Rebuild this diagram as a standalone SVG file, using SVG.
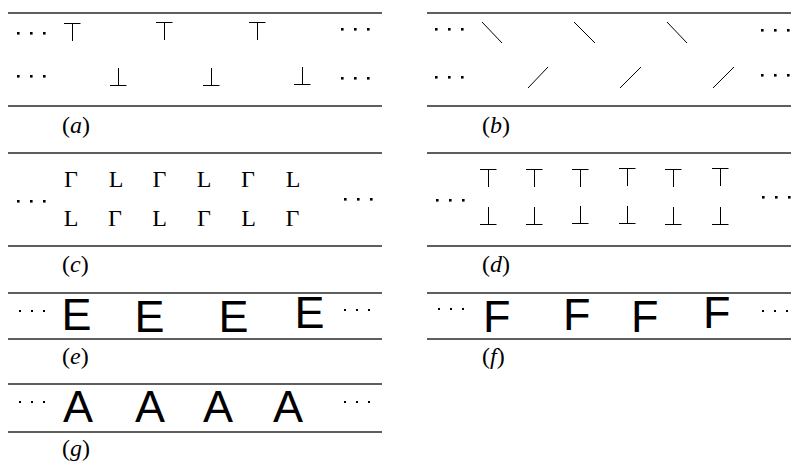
<svg xmlns="http://www.w3.org/2000/svg" xmlns:xlink="http://www.w3.org/1999/xlink" width="791" height="464" viewBox="0 0 791 464">
<style>
.rule{stroke:#5e5e5e;stroke-width:2.2;fill:none}
.sym{stroke:#000;stroke-width:1;fill:none}
.dot{fill:#000}
.lbl{font-family:"Liberation Serif","Times New Roman",serif;font-size:24px;fill:#000}
.gl{font-family:"Liberation Serif","Times New Roman",serif;font-size:24px;fill:#000;text-anchor:middle}
.big{font-family:"Liberation Sans",Arial,sans-serif;font-size:45px;fill:#000}
</style>
<defs>
<path id="top" d="M-8,0.5H8.5M0.5,0V18"/>
<path id="bot" d="M-8,17.5H8.5M0.5,0V18"/>
<g id="dots"><rect x="-1" y="-1" width="2.6" height="2.6"/><rect x="12" y="-1" width="2.6" height="2.6"/><rect x="25" y="-1" width="2.6" height="2.6"/></g>
<g id="sdots"><rect x="-1" y="-1" width="2" height="2"/><rect x="11" y="-1" width="2" height="2"/><rect x="23" y="-1" width="2" height="2"/></g>
</defs>

<g id="panel-a">
<line class="rule" x1="8" y1="13" x2="382" y2="13"/>
<line class="rule" x1="8" y1="106" x2="382" y2="106"/>
<g class="dot"><use xlink:href="#dots" x="18" y="33"/><use xlink:href="#dots" x="18" y="76"/><use xlink:href="#dots" x="342" y="29"/><use xlink:href="#dots" x="342" y="78"/></g>
<g class="sym">
<use xlink:href="#top" x="72" y="23"/><use xlink:href="#top" x="164" y="22"/><use xlink:href="#top" x="257" y="22"/>
<use xlink:href="#bot" x="118" y="68"/><use xlink:href="#bot" x="211" y="68"/><use xlink:href="#bot" x="302" y="67"/>
</g>
<text class="lbl" x="62" y="133">(<tspan font-style="italic">a</tspan>)</text>
</g>

<g id="panel-b">
<line class="rule" x1="427" y1="13" x2="791" y2="13"/>
<line class="rule" x1="427" y1="106" x2="791" y2="106"/>
<g class="dot"><use xlink:href="#dots" x="436" y="29"/><use xlink:href="#dots" x="436" y="77"/><use xlink:href="#dots" x="762" y="30"/><use xlink:href="#dots" x="762" y="75"/></g>
<g class="sym">
<line x1="482" y1="22" x2="502" y2="43"/><line x1="574" y1="22" x2="595" y2="43"/><line x1="667" y1="22" x2="687" y2="43"/>
<line x1="528" y1="88" x2="548" y2="67"/><line x1="620" y1="88" x2="641" y2="67"/><line x1="713" y1="88" x2="734" y2="67"/>
</g>
<text class="lbl" x="482" y="133">(<tspan font-style="italic">b</tspan>)</text>
</g>

<g id="panel-c">
<line class="rule" x1="8" y1="153" x2="382" y2="153"/>
<line class="rule" x1="8" y1="246" x2="382" y2="246"/>
<g class="dot"><use xlink:href="#dots" x="18" y="201"/><use xlink:href="#dots" x="345" y="199"/></g>
<text class="gl" x="71" y="187">Γ</text><text class="gl" x="116" y="187">L</text><text class="gl" x="159.5" y="187">Γ</text><text class="gl" x="204" y="187">L</text><text class="gl" x="248" y="187">Γ</text><text class="gl" x="293" y="187">L</text>
<text class="gl" x="71" y="226">L</text><text class="gl" x="115" y="226">Γ</text><text class="gl" x="159.5" y="226">L</text><text class="gl" x="204" y="226">Γ</text><text class="gl" x="248.5" y="226">L</text><text class="gl" x="292.5" y="226">Γ</text>
<text class="lbl" x="62" y="272">(<tspan font-style="italic">c</tspan>)</text>
</g>

<g id="panel-d">
<line class="rule" x1="427" y1="153" x2="791" y2="153"/>
<line class="rule" x1="427" y1="246" x2="791" y2="246"/>
<g class="dot"><use xlink:href="#dots" x="437" y="200"/><use xlink:href="#dots" x="763" y="197"/></g>
<g class="sym">
<use xlink:href="#top" x="488" y="169"/><use xlink:href="#top" x="534" y="169"/><use xlink:href="#top" x="580" y="169"/><use xlink:href="#top" x="627" y="168"/><use xlink:href="#top" x="673" y="169"/><use xlink:href="#top" x="720" y="168"/>
<use xlink:href="#bot" x="488" y="207"/><use xlink:href="#bot" x="534" y="207"/><use xlink:href="#bot" x="580" y="206"/><use xlink:href="#bot" x="627" y="206"/><use xlink:href="#bot" x="673" y="207"/><use xlink:href="#bot" x="720" y="207"/>
</g>
<text class="lbl" x="482" y="272">(<tspan font-style="italic">d</tspan>)</text>
</g>

<g id="panel-e">
<line class="rule" x1="8" y1="293" x2="382" y2="293"/>
<line class="rule" x1="8" y1="339" x2="382" y2="339"/>
<g class="dot"><use xlink:href="#sdots" x="20" y="311"/><use xlink:href="#sdots" x="345" y="310"/></g>
<text class="big" x="61.5" y="330">E</text><text class="big" x="134.5" y="332">E</text><text class="big" x="218.5" y="332">E</text><text class="big" x="294.5" y="328">E</text>
<text class="lbl" x="62" y="364">(<tspan font-style="italic">e</tspan>)</text>
</g>

<g id="panel-f">
<line class="rule" x1="427" y1="293" x2="791" y2="293"/>
<line class="rule" x1="427" y1="339" x2="791" y2="339"/>
<g class="dot"><use xlink:href="#sdots" x="439" y="309"/><use xlink:href="#sdots" x="763" y="311"/></g>
<text class="big" x="483" y="332">F</text><text class="big" x="563" y="330">F</text><text class="big" x="631" y="332">F</text><text class="big" x="703" y="328">F</text>
<text class="lbl" x="482" y="364">(<tspan font-style="italic">f</tspan>)</text>
</g>

<g id="panel-g">
<line class="rule" x1="8" y1="384" x2="382" y2="384"/>
<line class="rule" x1="8" y1="432" x2="382" y2="432"/>
<g class="dot"><use xlink:href="#sdots" x="20" y="402"/><use xlink:href="#sdots" x="345" y="402"/></g>
<text class="big" x="63" y="422">A</text><text class="big" x="135" y="422">A</text><text class="big" x="203" y="422">A</text><text class="big" x="273" y="422">A</text>
<text class="lbl" x="62" y="456">(<tspan font-style="italic">g</tspan>)</text>
</g>
</svg>
